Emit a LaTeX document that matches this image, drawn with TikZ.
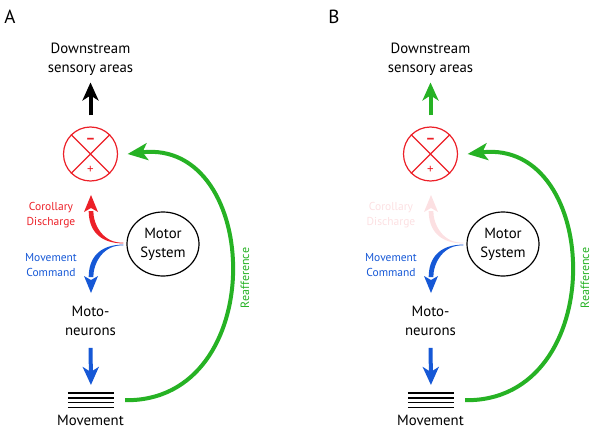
\documentclass[tikz,border=0pt]{standalone}
\usepackage{fontspec}
\setmainfont{PT Sans}
\usetikzlibrary{arrows.meta,shapes.geometric,calc}

\definecolor{cdred}{RGB}{236,32,40}
\definecolor{mcblue}{RGB}{22,88,214}
\definecolor{rfgreen}{RGB}{38,178,36}
\definecolor{cdfade}{RGB}{252,224,226}

\tikzset{
  txt/.style={align=center, inner sep=0pt, font=\fontsize{14.8}{19}\selectfont},
  small/.style={align=center, inner sep=0pt, font=\fontsize{11.5}{15}\selectfont},
  fat/.style={line width=4pt, -{Stealth[length=18pt,width=16pt,inset=5pt]}},
  cmp node/.style={circle, draw=cdred, line width=1.2pt, minimum size=54pt, inner sep=0pt},
  motor node/.style={ellipse, draw, line width=1.2pt, minimum width=72pt, minimum height=64pt,
                     inner sep=0pt, align=center, font=\fontsize{14.8}{19}\selectfont}
}

% #1 shift, #2 panel, #3 colour of the upward arrow, #4 colour of the corollary discharge
\newcommand{\drawpanel}[4]{%
\begin{scope}[xshift=#1pt, name prefix=#2-]
  \node[txt] (ds) at (90.5,59) {Downstream\\sensory areas};
  \node[cmp node] (cmp) at (90.5,154) {};
  \draw[cdred, line width=1.2pt] (cmp.north west) -- (cmp.south east) (cmp.north east) -- (cmp.south west);
  \node[cdred, inner sep=0pt, font=\fontsize{15}{15}\selectfont\bfseries] (minus) at ([yshift=13pt]cmp.center) {–};
  \node[cdred, inner sep=0pt, font=\fontsize{13}{13}\selectfont] (plus) at ([yshift=-16pt]cmp.center) {+};
  \node[motor node] (ms) at (163,244) {Motor\\System};
  \node[small, text=#4] (cd) at (51,215) {Corollary\\Discharge};
  \node[small, text=mcblue] (mc) at (51,265) {Movement\\Command};
  \node[txt] (mn) at (90.5,321) {Moto-\\neurons};
  \node[minimum width=46pt, minimum height=16pt, inner sep=0pt] (bars) at (91,400.2) {};
  \foreach \k in {0,...,3}
    \draw[line width=1.6pt] ([yshift={7.2pt-\k*4.8pt}]bars.west) -- ([yshift={7.2pt-\k*4.8pt}]bars.east);
  \node[txt] (mvt) at (90.5,420) {Movement};
  \node[small, text=rfgreen, rotate=90, font=\fontsize{12}{12}\selectfont] (rf) at (245,278) {Reafference};

  \coordinate (cdsrc) at ([shift={(-3,-1)}]ms.west);
  \coordinate (mcsrc) at ([shift={(-3,1)}]ms.west);
  \coordinate (cdtip) at (91,195);
  \coordinate (cdbase) at (91,211);
  \coordinate (mctip) at (91,293);
  \coordinate (mcbase) at (91,277);

  \draw[fat, #3, shorten <=11pt, shorten >=7pt] (cmp.north) -- (ds.south);
  \fill[#4] ($(cdsrc)+(0,0.4)$) .. controls +(-25,0) and +(0,18) .. ($(cdbase)+(-2.3,0)$)
     -- ($(cdbase)+(2.3,0)$) .. controls +(0,14) and +(-20,1) .. ($(cdsrc)+(0,-0.4)$) -- cycle;
  \fill[#4] (cdtip) -- ($(cdbase)+(7,1)$) -- ($(cdbase)+(0,-3)$) -- ($(cdbase)+(-7,1)$) -- cycle;
  \fill[mcblue] ($(mcsrc)+(0,-0.4)$) .. controls +(-25,0) and +(0,-18) .. ($(mcbase)+(-2.3,0)$)
     -- ($(mcbase)+(2.3,0)$) .. controls +(0,-14) and +(-20,-1) .. ($(mcsrc)+(0,0.4)$) -- cycle;
  \fill[mcblue] (mctip) -- ($(mcbase)+(7,-1)$) -- ($(mcbase)+(0,3)$) -- ($(mcbase)+(-7,-1)$) -- cycle;
  \draw[fat, mcblue, shorten <=12pt, shorten >=7pt] (mn.south) -- (bars.north);
  \draw[rfgreen, line width=4pt, -{Stealth[length=20pt,width=17pt,inset=5pt]}]
    ([xshift=11pt]bars.east) .. controls +(145,2) and +(135,-16) .. ([xshift=9.5pt]cmp.east);
\end{scope}}

\begin{document}
\begin{tikzpicture}[x=1pt,y=-1pt]
  \useasboundingbox (0,0) rectangle (600,433);
  \node[font=\fontsize{19}{19}\selectfont] (lblA) at (10,17) {A};
  \node[font=\fontsize{19}{19}\selectfont] (lblB) at (334,17) {B};
  \drawpanel{0}{A}{black}{cdred}
  \drawpanel{340}{B}{rfgreen}{cdfade}
\end{tikzpicture}
\end{document}
